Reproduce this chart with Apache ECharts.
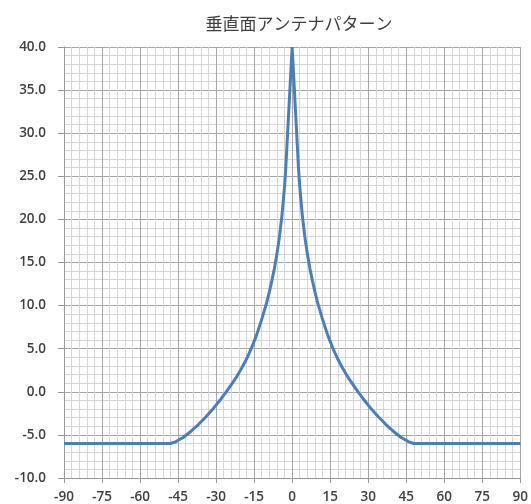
<!DOCTYPE html>
<html><head><meta charset="utf-8">
<script src="https://cdn.jsdelivr.net/npm/echarts@6/dist/echarts.min.js"></script>
<style>html,body{margin:0;padding:0;background:#fff}#c{width:531px;height:504px}</style>
</head><body><div id="c"></div>
<script>
const titleText = '垂直面アンテナパターン';
const angles = [-90, -48, -46, -43, -40, -37, -34, -31, -28, -25, -22, -20, -18, -16, -14, -12, -10, -9, -8, -7, -6, -5, -4, -3, -2.5, 0,
  2.5, 3, 4, 5, 6, 7, 8, 9, 10, 12, 14, 16, 18, 20, 22, 25, 28, 31, 34, 37, 40, 43, 46, 48, 90];
const gains = [-6.0, -6.0, -5.8, -5.3, -4.6, -3.8, -2.9, -1.9, -0.8, 0.4, 1.7, 2.7, 3.8, 5.1, 6.6, 8.4, 10.4, 11.6, 12.9, 14.3, 16.0, 18.0, 20.5, 23.8, 26.0, 40.0,
  26.0, 23.8, 20.5, 18.0, 16.0, 14.3, 12.9, 11.6, 10.4, 8.4, 6.6, 5.1, 3.8, 2.7, 1.7, 0.4, -0.8, -1.9, -2.9, -3.8, -4.6, -5.3, -5.8, -6.0, -6.0];
const xTicks = [-90, 90, 15];
const yTicks = [-10, 40, 5];

const chart = echarts.init(document.getElementById('c'));
const lab = {color: '#404040', fontFamily: 'Open Sans', fontSize: 13.5, fontWeight: 600};
chart.setOption({
  animation: false,
  title: {text: titleText, left: 294, textAlign: 'center', top: 10,
    textStyle: {fontFamily: 'Noto Sans CJK JP', fontSize: 17, fontWeight: 'normal', color: '#404040'}},
  grid: {left: 64, right: 7, top: 47, bottom: 25},
  xAxis: {type: 'value', min: xTicks[0], max: xTicks[1], interval: xTicks[2],
    axisLine: {show: true, onZero: false, lineStyle: {color: '#999', width: 1}},
    axisTick: {show: true, length: 5, lineStyle: {color: '#999'}},
    axisLabel: Object.assign({margin: 12}, lab),
    splitLine: {show: true, lineStyle: {color: '#a6a6a6', width: 1}},
    minorTick: {show: false, splitNumber: 5},
    minorSplitLine: {show: true, lineStyle: {color: '#d6d6d6', width: 1}}},
  yAxis: {type: 'value', min: yTicks[0], max: yTicks[1], interval: yTicks[2],
    axisLine: {show: true, onZero: false, lineStyle: {color: '#999', width: 1}},
    axisTick: {show: true, length: 6, lineStyle: {color: '#999'}},
    axisLabel: Object.assign({margin: 18, formatter: v => v.toFixed(1)}, lab),
    splitLine: {show: true, lineStyle: {color: '#a6a6a6', width: 1}},
    minorTick: {show: false, splitNumber: 5},
    minorSplitLine: {show: true, lineStyle: {color: '#d6d6d6', width: 1}}},
  series: [{type: 'line', data: angles.map((a, i) => [a, gains[i]]),
    showSymbol: false, symbol: 'none', smooth: false,
    lineStyle: {color: '#4a7ebb', width: 3}}]
});
</script></body></html>
